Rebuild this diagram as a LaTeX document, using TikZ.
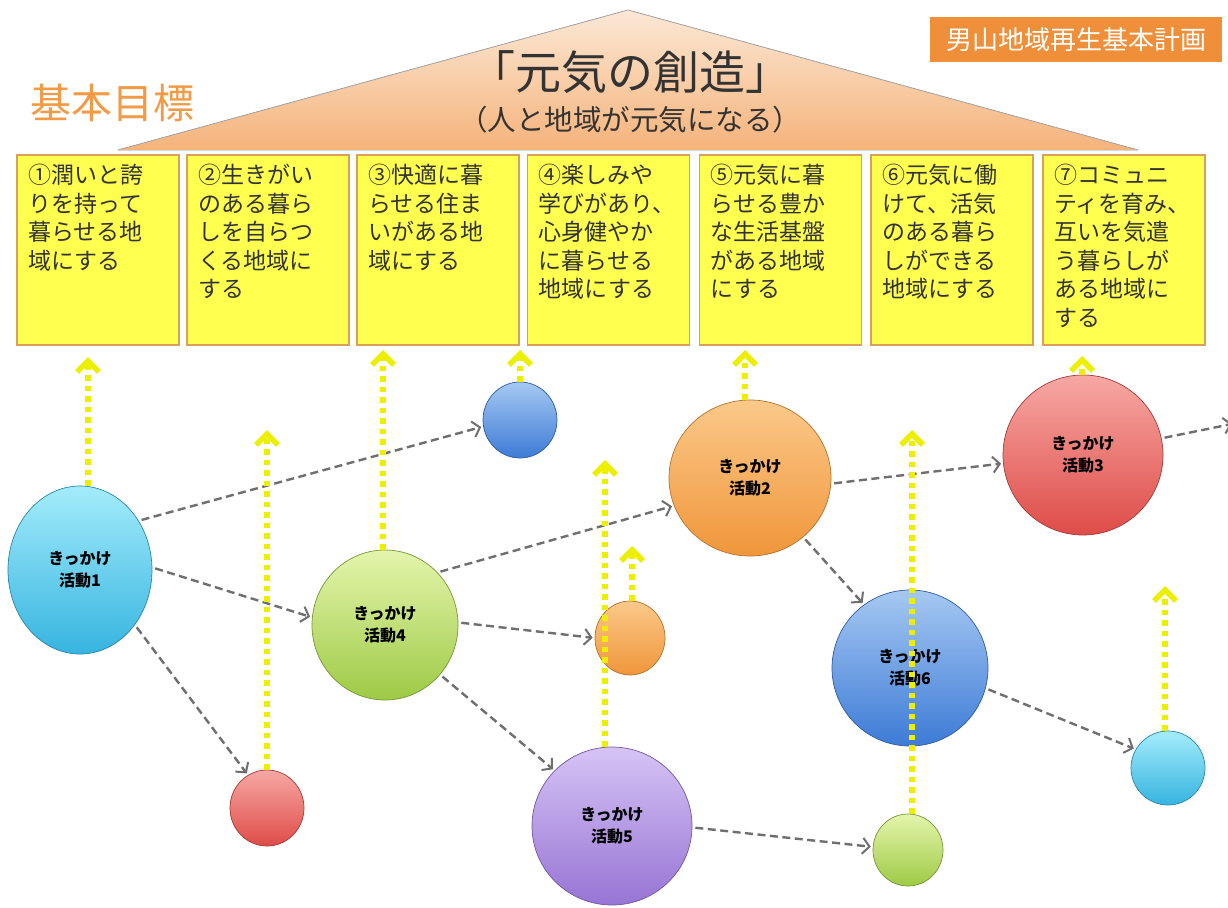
\documentclass[tikz,border=0pt]{standalone}
\usepackage{fontspec}
\setmainfont{Noto Sans CJK JP}
\usetikzlibrary{arrows.meta,shapes.geometric}
\definecolor{boxfill}{HTML}{FFFF4F}
\definecolor{boxedge}{HTML}{D9A05B}
\definecolor{roofA}{HTML}{FCE8D6}
\definecolor{roofB}{HTML}{F5B37A}
\definecolor{titleorange}{HTML}{F29A45}
\definecolor{labelorange}{HTML}{EF8F3A}
\definecolor{ylw}{HTML}{ECEF00}
\definecolor{agray}{HTML}{6F6F6F}
\definecolor{textgray}{HTML}{333333}
\definecolor{cyanA}{HTML}{A4ECFB}\definecolor{cyanB}{HTML}{36B4E0}
\definecolor{blueA}{HTML}{A6C8F2}\definecolor{blueB}{HTML}{3D7BD6}
\definecolor{greenA}{HTML}{E4F5AC}\definecolor{greenB}{HTML}{9ECA46}
\definecolor{orangeA}{HTML}{FBC98A}\definecolor{orangeB}{HTML}{F0963A}
\definecolor{redA}{HTML}{F7A8A4}\definecolor{redB}{HTML}{DE4C48}
\definecolor{purpleA}{HTML}{D6C4F5}\definecolor{purpleB}{HTML}{9774D4}
\begin{document}
\begin{tikzpicture}[x=1pt,y=-1pt,
  goalbox/.style={draw=boxedge, line width=1.8pt, fill=boxfill, minimum width=162pt, minimum height=190pt, inner sep=0pt},
  btext/.style={anchor=north west, align=left, font=\fontsize{23}{28.5}\selectfont, text=textgray, inner sep=0pt},
  ball/.style n args={2}{ellipse, top color=#1, bottom color=#2, draw=#2!75!black, line width=0.7pt, inner sep=0pt, align=center, font=\bfseries\fontsize{16}{22}\selectfont, text=black},
  yarr/.style={draw=ylw, line width=5.5pt, dash pattern=on 5.5pt off 5pt, -{Straight Barb[length=11pt,width=22pt,line width=5.5pt]}},
  garr/.style={draw=agray, line width=2.4pt, dash pattern=on 8pt off 4.5pt, shorten <=3pt, shorten >=2pt, -{Straight Barb[length=7pt,width=16pt,line width=2pt]}}
]
\useasboundingbox (0,0) rectangle (1228,907);
\fill[white] (0,0) rectangle (1228,907);

% roof
\fill[top color=roofA, bottom color=roofB] (118,150) -- (628,10) -- (1138,150) -- cycle;
\draw[gray!70, line width=0.8pt] (118,150) -- (628,10) -- (1138,150);
\node[text=textgray, font=\fontsize{46}{52}\selectfont] (title) at (630,72) {「元気の創造」};
\node[text=textgray, font=\fontsize{28.5}{33}\selectfont] (subtitle) at (630,120) {（人と地域が元気になる）};
\node[text=titleorange, font=\fontsize{41}{46}\selectfont] (kihon) at (112,103) {基本目標};
\node[fill=labelorange, text=white, font=\fontsize{26}{30}\selectfont, minimum width=292pt, minimum height=45pt, inner sep=0pt] (plan) at (1076,40) {男山地域再生基本計画};

% goal boxes
\node[goalbox] (b1) at (98,250) {};
\node[goalbox] (b2) at (268,250) {};
\node[goalbox] (b3) at (438,250) {};
\node[goalbox] (b4) at (608.5,250) {};
\node[goalbox] (b5) at (780.5,250) {};
\node[goalbox] (b6) at (952,250) {};
\node[goalbox] (b7) at (1124,250) {};
\node[btext] (t1) at ([shift={(12,10)}]b1.north west) {①潤いと誇\\りを持って\\暮らせる地\\域にする};
\node[btext] (t2) at ([shift={(12,10)}]b2.north west) {②生きがい\\のある暮ら\\しを自らつ\\くる地域に\\する};
\node[btext] (t3) at ([shift={(12,10)}]b3.north west) {③快適に暮\\らせる住ま\\いがある地\\域にする};
\node[btext] (t4) at ([shift={(12,10)}]b4.north west) {④楽しみや\\学びがあり、\\心身健やか\\に暮らせる\\地域にする};
\node[btext] (t5) at ([shift={(12,10)}]b5.north west) {⑤元気に暮\\らせる豊か\\な生活基盤\\がある地域\\にする};
\node[btext] (t6) at ([shift={(12,10)}]b6.north west) {⑥元気に働\\けて、活気\\のある暮ら\\しができる\\地域にする};
\node[btext] (t7) at ([shift={(12,10)}]b7.north west) {⑦コミュニ\\ティを育み、\\互いを気遣\\う暮らしが\\ある地域に\\する};

% circles
\node[ball={cyanA}{cyanB}, minimum width=144pt, minimum height=168pt] (c1) at (80,570) {きっかけ\\活動1};
\node[ball={greenA}{greenB}, minimum width=146pt, minimum height=150pt] (c4) at (385,625) {きっかけ\\活動4};
\node[ball={orangeA}{orangeB}, minimum width=162pt, minimum height=156pt] (c2) at (750,478) {きっかけ\\活動2};
\node[ball={redA}{redB}, minimum width=160pt, minimum height=160pt] (c3) at (1083,455) {きっかけ\\活動3};
\node[ball={purpleA}{purpleB}, minimum width=160pt, minimum height=158pt] (c5) at (612,826) {きっかけ\\活動5};
\node[ball={blueA}{blueB}, minimum width=156pt, minimum height=156pt] (c6) at (910,668) {きっかけ\\活動6};
\node[ball={blueA}{blueB}, minimum width=74pt, minimum height=76pt] (bs) at (520,420) {};
\node[ball={orangeA}{orangeB}, minimum width=70pt, minimum height=74pt] (os) at (630,638) {};
\node[ball={redA}{redB}, minimum width=74pt, minimum height=76pt] (rs) at (267,808) {};
\node[ball={greenA}{greenB}, minimum width=70pt, minimum height=72pt] (gs) at (908,850) {};
\node[ball={cyanA}{cyanB}, minimum width=74pt, minimum height=74pt] (cs) at (1168,768) {};

% gray dashed arrows
\coordinate (off) at (1232,424);
\draw[garr] (c1.40) -- (bs.190);
\draw[garr] (c1.2) -- (c4.174);
\draw[garr] (c1.-45) -- (rs.120);
\draw[garr] (c4.45) -- (c2.200);
\draw[garr] (c4.2) -- (os.180);
\draw[garr] (c4.-42) -- (c5.136);
\draw[garr] (c2.-4) -- (c3.186);
\draw[garr] (c2.-48) -- (c6.126);
\draw[garr, shorten >=0pt] (c3.12) -- (off);
\draw[garr] (c6.-15) -- (cs.150);
\draw[garr] (c5.-1) -- (gs.175);

% yellow dotted arrows
\coordinate (y1) at (88,357);
\coordinate (y2) at (267,430);
\coordinate (y3) at (383,350);
\coordinate (y4) at (520,350);
\coordinate (y5) at (605,460);
\coordinate (y6) at (632,546);
\coordinate (y7) at (745,350);
\coordinate (y8) at (912,430);
\coordinate (y9) at (1082,356);
\coordinate (y10) at (1165,586);
\draw[yarr] (c1.north -| y1) -- (y1);
\draw[yarr] (rs.north -| y2) -- (y2);
\draw[yarr] (c4.north -| y3) -- (y3);
\draw[yarr] (bs.north -| y4) -- (y4);
\draw[yarr] (c5.north -| y5) -- (y5);
\draw[yarr] (os.north -| y6) -- (y6);
\draw[yarr] (c2.north -| y7) -- (y7);
\draw[yarr] (gs.north -| y8) -- (y8);
\draw[yarr] (c3.north -| y9) -- (y9);
\draw[yarr] (cs.north -| y10) -- (y10);
\end{tikzpicture}
\end{document}
